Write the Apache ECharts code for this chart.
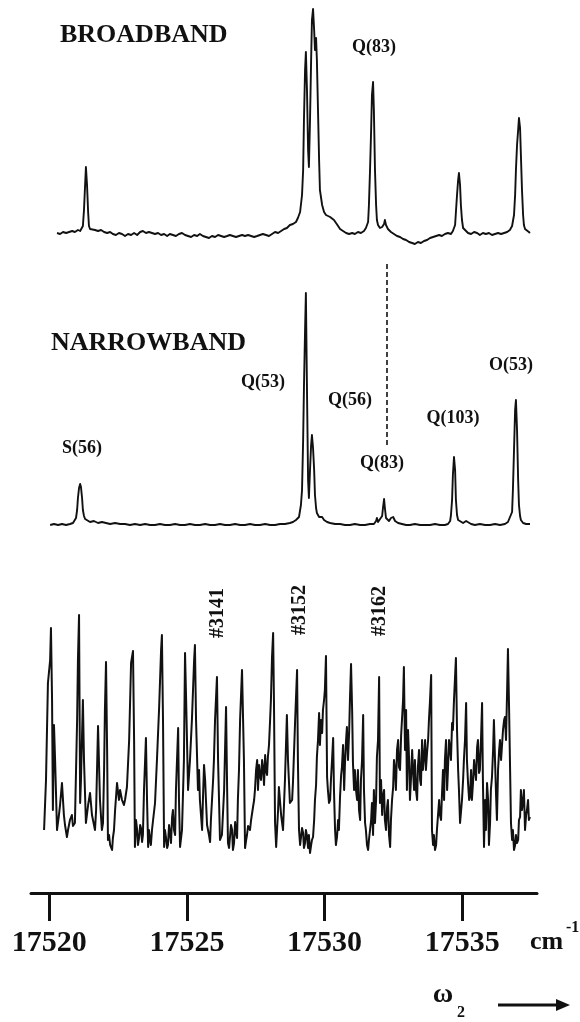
<!DOCTYPE html>
<html>
<head>
<meta charset="utf-8">
<script src="https://cdn.jsdelivr.net/npm/echarts@6/dist/echarts.min.js"></script>
<style>
html,body{margin:0;padding:0;background:#fff;}
#chart{width:580px;height:1022px;}
</style>
</head>
<body>
<div id="chart"></div>
<script>
// ---- data (wavenumber cm^-1, intensity in arbitrary units) ----
const tickValues = [17520, 17525, 17530, 17535];

const broadband = [
[17520.28,12],[17520.39,11],[17520.50,13],[17520.61,12],[17520.72,13],[17520.83,14],[17520.93,13],[17521.04,15],
[17521.12,14],[17521.19,16],[17521.22,19],[17521.26,35],[17521.30,60],[17521.33,78],[17521.37,60],[17521.41,33],
[17521.44,19],[17521.48,16],[17521.55,17],[17521.66,15],[17521.77,14],[17521.88,15],[17521.99,13],[17522.10,12],
[17522.21,13],[17522.31,11],[17522.42,10],[17522.53,12],[17522.64,11],[17522.75,9],[17522.86,11],[17522.97,10],
[17523.08,12],[17523.19,10],[17523.30,13],[17523.40,14],[17523.51,12],[17523.62,13],[17523.73,12],[17523.84,11],
[17523.95,12],[17524.06,10],[17524.17,11],[17524.28,9],[17524.38,11],[17524.49,10],[17524.60,9],[17524.71,11],
[17524.82,12],[17524.93,10],[17525.04,9],[17525.15,8],[17525.26,10],[17525.37,9],[17525.47,11],[17525.58,9],
[17525.69,8],[17525.80,7],[17525.91,9],[17526.02,8],[17526.13,10],[17526.24,9],[17526.35,8],[17526.46,9],
[17526.56,10],[17526.67,9],[17526.78,8],[17526.89,9],[17527.00,10],[17527.11,9],[17527.22,10],[17527.33,9],
[17527.44,8],[17527.55,9],[17527.65,10],[17527.76,11],[17527.87,10],[17527.98,9],[17528.09,11],[17528.20,13],
[17528.31,12],[17528.42,14],[17528.53,16],[17528.63,17],[17528.74,20],[17528.85,21],[17528.96,23],[17529.03,27],
[17529.11,33],[17529.18,50],[17529.22,75],[17529.25,125],[17529.29,175],[17529.32,193],[17529.36,155],[17529.40,95],
[17529.43,78],[17529.47,125],[17529.51,185],[17529.54,225],[17529.58,236],[17529.62,215],[17529.65,195],[17529.69,207],
[17529.72,185],[17529.76,135],[17529.80,85],[17529.83,55],[17529.91,40],[17529.98,33],[17530.05,30],[17530.12,31],
[17530.20,28],[17530.27,27],[17530.34,25],[17530.41,23],[17530.49,19],[17530.56,16],[17530.67,14],[17530.78,12],
[17530.89,11],[17531.00,12],[17531.10,11],[17531.21,13],[17531.32,12],[17531.43,14],[17531.50,17],[17531.58,23],
[17531.61,40],[17531.65,75],[17531.69,115],[17531.72,150],[17531.76,163],[17531.79,135],[17531.83,75],[17531.87,40],
[17531.90,25],[17531.94,20],[17532.01,17],[17532.09,18],[17532.16,21],[17532.19,25],[17532.23,20],[17532.30,16],
[17532.41,13],[17532.52,11],[17532.63,9],[17532.74,8],[17532.85,6],[17532.96,5],[17533.07,3],[17533.18,2],
[17533.28,1],[17533.39,3],[17533.50,2],[17533.61,4],[17533.72,5],[17533.83,7],[17533.94,8],[17534.05,9],
[17534.16,10],[17534.26,9],[17534.37,11],[17534.48,12],[17534.59,11],[17534.66,14],[17534.74,20],[17534.77,33],
[17534.81,50],[17534.85,65],[17534.88,72],[17534.92,60],[17534.95,40],[17534.99,25],[17535.03,17],[17535.10,15],
[17535.21,12],[17535.32,11],[17535.43,13],[17535.54,12],[17535.64,10],[17535.75,12],[17535.86,11],[17535.97,12],
[17536.08,10],[17536.19,11],[17536.30,12],[17536.41,11],[17536.52,12],[17536.63,13],[17536.73,15],[17536.81,19],
[17536.88,30],[17536.92,50],[17536.95,75],[17536.99,100],[17537.03,115],[17537.06,127],[17537.10,117],[17537.13,90],
[17537.17,55],[17537.21,30],[17537.24,20],[17537.28,16],[17537.35,14],[17537.42,13],[17537.46,12]
];

const narrowband = [
[17520.03,10],[17520.17,11],[17520.32,10],[17520.46,11],[17520.61,10],[17520.75,11],[17520.86,12],[17520.93,14],
[17520.97,17],[17521.01,25],[17521.04,37],[17521.08,47],[17521.12,51],[17521.15,48],[17521.19,37],[17521.22,25],
[17521.26,19],[17521.30,16],[17521.37,14],[17521.48,13],[17521.62,14],[17521.77,12],[17521.91,13],[17522.06,12],
[17522.21,11],[17522.39,12],[17522.57,11],[17522.75,11],[17522.93,10],[17523.11,11],[17523.30,10],[17523.48,11],
[17523.66,10],[17523.84,10],[17524.02,11],[17524.20,10],[17524.38,10],[17524.57,11],[17524.75,10],[17524.93,10],
[17525.11,11],[17525.29,10],[17525.47,10],[17525.66,11],[17525.84,10],[17526.02,10],[17526.20,11],[17526.38,10],
[17526.56,10],[17526.75,11],[17526.93,10],[17527.11,10],[17527.29,11],[17527.47,10],[17527.65,10],[17527.84,11],
[17528.02,10],[17528.20,10],[17528.38,11],[17528.56,11],[17528.74,12],[17528.85,13],[17528.96,15],[17529.07,18],
[17529.14,30],[17529.18,45],[17529.22,95],[17529.25,148],[17529.29,205],[17529.32,242],[17529.36,145],[17529.40,55],
[17529.43,37],[17529.47,65],[17529.51,90],[17529.54,100],[17529.58,87],[17529.62,65],[17529.65,40],[17529.69,27],
[17529.72,22],[17529.80,18],[17529.87,16],[17529.91,18],[17529.98,15],[17530.09,13],[17530.20,12],[17530.38,11],
[17530.56,11],[17530.74,10],[17530.92,10],[17531.10,11],[17531.29,10],[17531.47,10],[17531.65,11],[17531.79,11],
[17531.87,14],[17531.90,17],[17531.94,13],[17532.01,14],[17532.09,19],[17532.12,27],[17532.16,36],[17532.19,27],
[17532.23,17],[17532.27,15],[17532.34,14],[17532.41,17],[17532.49,18],[17532.56,14],[17532.67,12],[17532.81,11],
[17532.96,10],[17533.10,10],[17533.28,11],[17533.47,10],[17533.65,10],[17533.83,10],[17534.01,11],[17534.19,10],
[17534.37,10],[17534.48,11],[17534.56,14],[17534.59,20],[17534.63,35],[17534.66,60],[17534.70,78],[17534.74,65],
[17534.77,35],[17534.81,20],[17534.85,15],[17534.92,13],[17535.03,12],[17535.14,14],[17535.17,15],[17535.21,13],
[17535.32,11],[17535.46,10],[17535.64,11],[17535.83,10],[17536.01,10],[17536.19,11],[17536.37,10],[17536.55,11],
[17536.66,13],[17536.73,15],[17536.81,23],[17536.84,45],[17536.88,85],[17536.92,125],[17536.95,135],[17536.99,105],
[17537.03,55],[17537.06,30],[17537.10,19],[17537.13,15],[17537.21,12],[17537.32,11],[17537.39,12],[17537.46,11]
];

const scan = [
[17519.81,40],[17519.88,90],[17519.95,187],[17520.03,210],[17520.06,242],[17520.10,170],[17520.13,60],[17520.17,145],
[17520.21,110],[17520.28,40],[17520.35,55],[17520.39,65],[17520.46,87],[17520.53,55],[17520.57,45],[17520.64,33],
[17520.68,40],[17520.75,50],[17520.82,55],[17520.86,44],[17520.93,47],[17521.01,150],[17521.04,210],[17521.08,255],
[17521.12,67],[17521.15,90],[17521.22,170],[17521.26,110],[17521.33,47],[17521.41,65],[17521.48,77],[17521.55,55],
[17521.66,40],[17521.70,60],[17521.77,144],[17521.84,70],[17521.91,40],[17521.95,47],[17521.99,100],[17522.02,160],
[17522.06,208],[17522.10,120],[17522.13,30],[17522.17,35],[17522.21,25],[17522.28,20],[17522.31,32],[17522.35,40],
[17522.39,60],[17522.46,87],[17522.53,70],[17522.57,80],[17522.64,70],[17522.71,65],[17522.75,70],[17522.82,83],
[17522.90,130],[17522.97,207],[17523.04,219],[17523.08,130],[17523.11,23],[17523.15,50],[17523.19,40],[17523.22,25],
[17523.26,32],[17523.30,45],[17523.33,42],[17523.37,28],[17523.40,35],[17523.44,80],[17523.51,132],[17523.55,70],
[17523.59,23],[17523.62,40],[17523.66,30],[17523.69,25],[17523.73,40],[17523.77,50],[17523.84,67],[17523.91,110],
[17523.99,163],[17524.06,220],[17524.09,235],[17524.13,150],[17524.17,23],[17524.20,40],[17524.24,32],[17524.28,22],
[17524.31,25],[17524.35,45],[17524.38,38],[17524.42,27],[17524.46,53],[17524.49,60],[17524.53,40],[17524.57,35],
[17524.60,80],[17524.68,142],[17524.71,70],[17524.75,23],[17524.82,40],[17524.89,110],[17524.93,217],[17524.97,170],
[17525.04,80],[17525.11,110],[17525.18,150],[17525.26,210],[17525.29,225],[17525.33,150],[17525.40,80],[17525.44,100],
[17525.47,70],[17525.51,55],[17525.55,40],[17525.58,70],[17525.62,105],[17525.66,90],[17525.69,70],[17525.73,45],
[17525.80,35],[17525.84,28],[17525.87,50],[17525.91,70],[17525.95,90],[17525.98,110],[17526.02,150],[17526.09,193],
[17526.13,110],[17526.20,30],[17526.27,35],[17526.35,80],[17526.42,163],[17526.46,80],[17526.49,27],[17526.53,22],
[17526.56,32],[17526.60,45],[17526.64,40],[17526.67,20],[17526.71,27],[17526.75,48],[17526.78,38],[17526.82,32],
[17526.85,70],[17526.89,100],[17526.93,150],[17527.00,200],[17527.04,198],[17527.07,110],[17527.11,22],[17527.15,30],
[17527.18,35],[17527.22,44],[17527.29,40],[17527.33,50],[17527.40,63],[17527.44,70],[17527.47,80],[17527.51,100],
[17527.55,110],[17527.58,80],[17527.62,105],[17527.65,95],[17527.69,90],[17527.73,110],[17527.76,103],[17527.80,85],
[17527.84,115],[17527.87,100],[17527.91,95],[17527.94,113],[17527.98,125],[17528.02,150],[17528.05,170],[17528.09,213],
[17528.13,237],[17528.16,170],[17528.20,47],[17528.24,23],[17528.31,60],[17528.34,83],[17528.42,55],[17528.49,40],
[17528.56,90],[17528.63,155],[17528.67,110],[17528.74,67],[17528.82,70],[17528.85,87],[17528.93,150],[17529.00,200],
[17529.03,110],[17529.07,40],[17529.11,25],[17529.14,32],[17529.18,42],[17529.22,37],[17529.25,22],[17529.29,27],
[17529.32,40],[17529.36,34],[17529.40,22],[17529.43,35],[17529.47,17],[17529.51,25],[17529.54,30],[17529.58,33],
[17529.62,50],[17529.65,70],[17529.69,85],[17529.72,113],[17529.76,130],[17529.80,157],[17529.83,125],[17529.87,150],
[17529.91,137],[17529.94,160],[17529.98,170],[17530.01,180],[17530.05,214],[17530.09,93],[17530.12,80],[17530.16,67],
[17530.20,70],[17530.23,90],[17530.27,110],[17530.31,132],[17530.34,80],[17530.38,40],[17530.41,25],[17530.45,33],
[17530.49,50],[17530.52,40],[17530.56,73],[17530.60,95],[17530.63,103],[17530.67,125],[17530.71,80],[17530.74,107],
[17530.78,130],[17530.81,143],[17530.85,110],[17530.89,137],[17530.92,170],[17530.96,206],[17531.00,160],[17531.03,107],
[17531.07,80],[17531.10,100],[17531.14,80],[17531.18,70],[17531.21,100],[17531.25,60],[17531.29,50],[17531.32,90],
[17531.36,110],[17531.40,155],[17531.43,80],[17531.47,47],[17531.50,40],[17531.54,25],[17531.58,20],[17531.61,30],
[17531.65,40],[17531.69,50],[17531.72,67],[17531.76,35],[17531.79,80],[17531.83,47],[17531.87,70],[17531.90,113],
[17531.94,130],[17531.98,193],[17532.01,67],[17532.05,90],[17532.09,55],[17532.12,73],[17532.16,80],[17532.19,50],
[17532.23,40],[17532.27,63],[17532.30,70],[17532.34,35],[17532.38,23],[17532.41,50],[17532.45,70],[17532.49,83],
[17532.52,110],[17532.56,100],[17532.59,80],[17532.63,120],[17532.67,130],[17532.70,103],[17532.74,100],[17532.78,135],
[17532.81,150],[17532.85,170],[17532.88,203],[17532.92,120],[17532.96,160],[17532.99,80],[17533.03,140],[17533.07,110],
[17533.10,70],[17533.14,93],[17533.18,120],[17533.21,100],[17533.25,80],[17533.28,110],[17533.32,80],[17533.36,70],
[17533.39,103],[17533.43,120],[17533.47,90],[17533.50,85],[17533.54,130],[17533.57,100],[17533.61,113],[17533.65,130],
[17533.68,100],[17533.72,117],[17533.76,130],[17533.79,150],[17533.83,170],[17533.87,195],[17533.90,40],[17533.94,25],
[17533.97,35],[17534.01,20],[17534.05,25],[17534.08,40],[17534.12,40],[17534.16,70],[17534.19,55],[17534.23,50],
[17534.26,73],[17534.30,100],[17534.34,70],[17534.37,110],[17534.41,130],[17534.45,80],[17534.48,100],[17534.52,130],
[17534.56,120],[17534.59,110],[17534.63,147],[17534.66,140],[17534.70,170],[17534.74,170],[17534.77,212],[17534.81,140],
[17534.85,100],[17534.88,80],[17534.92,47],[17534.96,60],[17534.99,70],[17535.03,90],[17535.06,110],[17535.10,130],
[17535.14,167],[17535.17,110],[17535.21,87],[17535.25,70],[17535.28,73],[17535.32,100],[17535.35,70],[17535.39,87],
[17535.43,110],[17535.46,100],[17535.50,90],[17535.54,123],[17535.57,130],[17535.61,97],[17535.64,100],[17535.68,130],
[17535.72,167],[17535.75,90],[17535.79,23],[17535.83,70],[17535.86,40],[17535.90,87],[17535.94,70],[17535.97,25],
[17536.01,47],[17536.04,80],[17536.08,93],[17536.12,120],[17536.15,150],[17536.19,110],[17536.23,73],[17536.26,50],
[17536.30,100],[17536.34,120],[17536.37,130],[17536.41,110],[17536.44,110],[17536.48,140],[17536.52,150],[17536.55,153],
[17536.59,130],[17536.63,180],[17536.66,221],[17536.70,163],[17536.77,47],[17536.81,30],[17536.84,40],[17536.88,20],
[17536.92,25],[17536.95,35],[17536.99,27],[17537.03,30],[17537.06,50],[17537.10,53],[17537.13,80],[17537.17,60],
[17537.21,70],[17537.24,80],[17537.28,40],[17537.32,55],[17537.35,60],[17537.39,70],[17537.42,50],[17537.46,53]
];

const q83Marker = [17532.27, 90, 271]; // wavenumber, lower/upper intensity of dashed guide

const panelTitles = ['BROADBAND', 'NARROWBAND'];
const peakLabels = ['Q(83)', 'S(56)', 'Q(53)', 'Q(56)', 'Q(83)', 'Q(103)', 'O(53)'];
const scanLabels = ['#3141', '#3152', '#3162'];

// ---- chart ----
const SERIF = '"Liberation Serif","DejaVu Serif",serif';
const X_MIN = 17519.335, X_MAX = 17537.715;
const chart = echarts.init(document.getElementById('chart'));

function hiddenX(i) {
  return { type: 'value', gridIndex: i, min: X_MIN, max: X_MAX, show: false };
}
function hiddenY(i, max) {
  return { type: 'value', gridIndex: i, min: 0, max: max, show: false };
}
function spectrum(i, data, width, extra) {
  return Object.assign({
    type: 'line', xAxisIndex: i, yAxisIndex: i, data: data,
    showSymbol: false, symbol: 'none', lineStyle: { color: '#111', width: width, join: 'round' },
    silent: true, sampling: null, animation: false
  }, extra || {});
}
function txt(text, x, y, size, align, rot) {
  return {
    type: 'text', x: x, y: y, rotation: rot || 0, silent: true,
    style: { text: text, font: 'bold ' + size + 'px ' + SERIF, fill: '#111',
             textAlign: align || 'center', textVerticalAlign: 'middle' }
  };
}

const option = {
  backgroundColor: '#fff',
  animation: false,
  grid: [
    { left: 31, right: 43, top: 0, height: 245 },
    { left: 31, right: 43, top: 260, height: 275 },
    { left: 31, right: 43, top: 560, height: 310 }
  ],
  xAxis: [
    hiddenX(0), hiddenX(1),
    {
      type: 'value', gridIndex: 2, min: X_MIN, max: X_MAX, offset: 23,
      axisLine: { show: true, onZero: false, lineStyle: { color: '#111', width: 3 } },
      axisTick: { show: true, length: 28, customValues: tickValues, lineStyle: { color: '#111', width: 3 } },
      axisLabel: { customValues: tickValues, margin: 35, fontSize: 30, fontWeight: 'bold',
                   fontFamily: SERIF, color: '#111', formatter: v => String(v) },
      splitLine: { show: false }
    }
  ],
  yAxis: [hiddenY(0, 245), hiddenY(1, 275), hiddenY(2, 310)],
  series: [
    spectrum(0, broadband, 1.9),
    spectrum(1, narrowband, 1.9, {
      markLine: {
        silent: true, symbol: 'none', animation: false,
        label: { show: false },
        lineStyle: { color: '#111', width: 1.6, type: [5, 3] },
        data: [[{ coord: [q83Marker[0], q83Marker[1]] }, { coord: [q83Marker[0], q83Marker[2]] }]]
      }
    }),
    spectrum(2, scan, 2)
  ],
  graphic: [
    txt(panelTitles[0], 60, 35, 26, 'left'),
    txt(peakLabels[0], 374, 47, 18),
    txt(panelTitles[1], 51, 343, 26, 'left'),
    txt(peakLabels[1], 82, 448, 18),
    txt(peakLabels[2], 263, 382, 18),
    txt(peakLabels[3], 350, 400, 18),
    txt(peakLabels[4], 382, 463, 18),
    txt(peakLabels[5], 453, 418, 18),
    txt(peakLabels[6], 511, 365, 18),
    txt(scanLabels[0], 218, 613, 20, 'center', Math.PI / 2),
    txt(scanLabels[1], 300, 610, 20, 'center', Math.PI / 2),
    txt(scanLabels[2], 380, 611, 20, 'center', Math.PI / 2),
    txt('cm', 530, 942, 26, 'left'),
    txt('-1', 566, 928, 16, 'left'),
    txt('ω', 443, 995, 28),
    txt('2', 461, 1013, 16),
    { type: 'line', silent: true, shape: { x1: 498, y1: 1005, x2: 560, y2: 1005 },
      style: { stroke: '#111', lineWidth: 3 } },
    { type: 'polygon', silent: true, shape: { points: [[556, 999], [570, 1005], [556, 1011]] },
      style: { fill: '#111' } }
  ]
};
chart.setOption(option);
</script>
</body>
</html>
